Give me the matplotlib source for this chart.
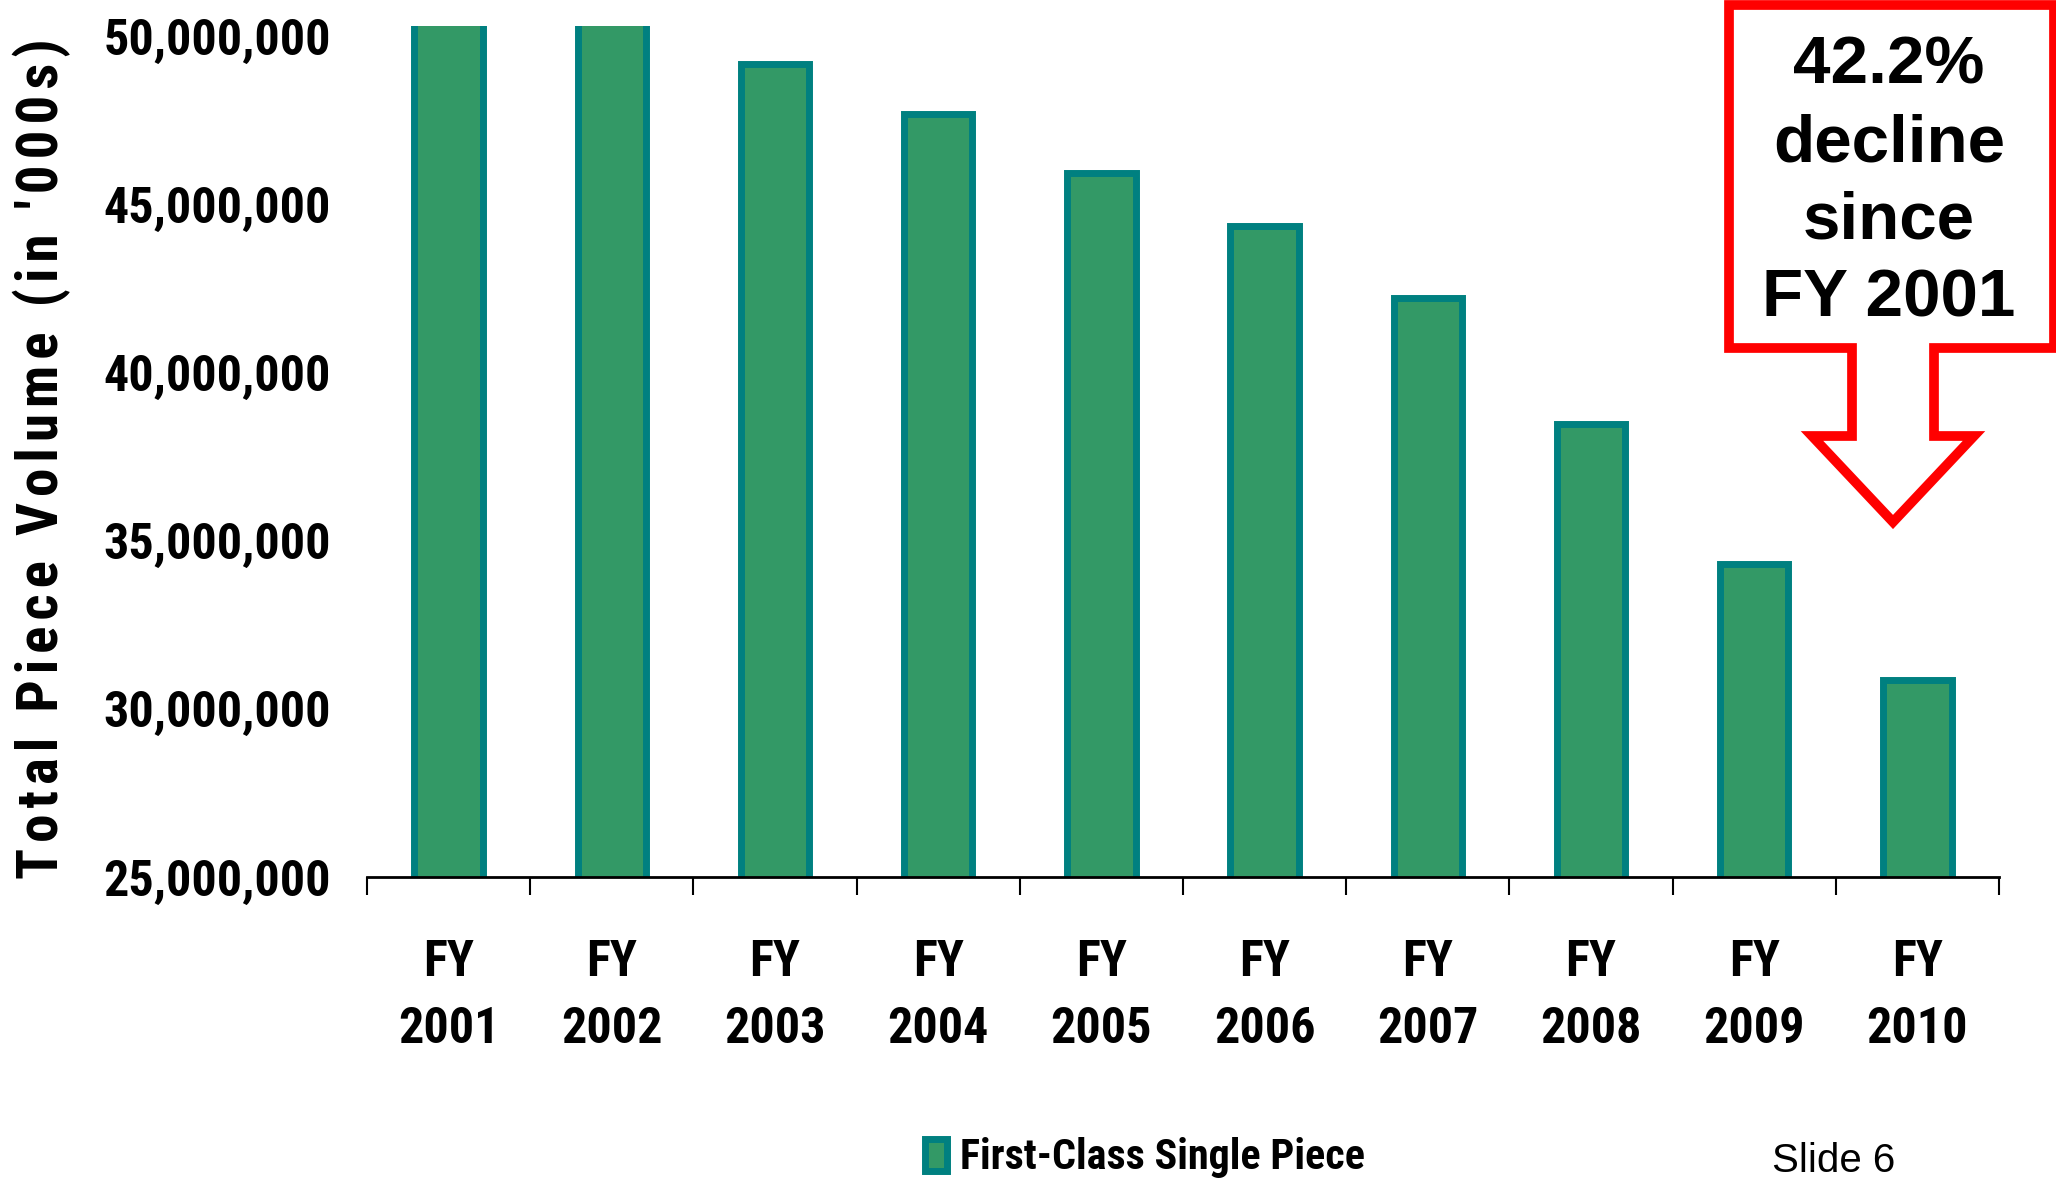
import matplotlib
matplotlib.use("Agg")
import matplotlib.pyplot as plt
from matplotlib import font_manager
from matplotlib.font_manager import FontProperties
from matplotlib.patches import Polygon
from matplotlib.ticker import FuncFormatter
import numpy as np

years = ["2001", "2002", "2003", "2004", "2005", "2006", "2007", "2008", "2009", "2010"]
volume = [53400000, 51900000, 49180000, 47670000, 45920000,
          44360000, 42210000, 38470000, 34300000, 30870000]
series_name = "First-Class Single Piece"
y_ticks = [25000000, 30000000, 35000000, 40000000, 45000000, 50000000]
callout = "42.2%\ndecline\nsince\nFY 2001"

# look for a narrow bold face (the chart uses Arial Narrow-like labels)
narrow_file = None
best = 99
for f in font_manager.fontManager.ttflist:
    cond = ("Narrow" in f.name or "Condensed" in f.name or "Narrow" in f.fname
            or "Condensed" in f.fname or f.stretch in ("condensed", "semi-condensed"))
    w = f.weight if isinstance(f.weight, int) else (700 if f.weight == "bold" else 400)
    if cond and w >= 600 and "italic" not in f.style and "oblique" not in f.style:
        rank = 0 if "Liberation" in f.name else (1 if "Roboto" in f.name else 2)
        if rank < best:
            best, narrow_file = rank, f.fname

wide = ["Liberation Sans", "DejaVu Sans"]
ylabel = "Total Piece Volume (in '000s)"

if narrow_file:
    def nfont(size):
        return FontProperties(fname=narrow_file, size=size)
    ytick_size, xtick_size, leg_size = 36, 36, 30.3
    narrow_name = FontProperties(fname=narrow_file).get_name()
    ylab_family = [narrow_name, "DejaVu Sans"]
    seps = ["", "\u200a", "\u2009"]
else:
    def nfont(size):
        return FontProperties(family="Liberation Sans", weight="bold", size=size)
    ytick_size, xtick_size, leg_size = 31.5, 31, 25.7
    ylab_family = wide
    seps = [""]

W, H = 2056, 1181
fig = plt.figure(figsize=(W / 100, H / 100), dpi=100)
ax = fig.add_axes([367 / W, 1 - 877 / H, 1632 / W, 851 / H])

x = np.arange(len(years))
bars = ax.bar(x, volume, width=0.42, color="#339966", edgecolor="#008080",
              linewidth=5, label=series_name)

ax.set_xlim(-0.5, len(years) - 0.5)
ax.set_ylim(25000000, 50300000)
for s in ["top", "right", "left"]:
    ax.spines[s].set_visible(False)
ax.spines["bottom"].set_linewidth(2)

ax.set_yticks(y_ticks)
ax.yaxis.set_major_formatter(FuncFormatter(lambda v, p: "{:,.0f}".format(v)))
ax.tick_params(axis="y", length=0, pad=26)
ax.set_xticks(x)
ax.set_xticklabels(["FY\n" + y for y in years])
ax.set_xticks(np.arange(-0.5, len(years)), minor=True)
xpad = 50 * 0.72 - 0.19 * xtick_size * 1.389 * 0.72 + 15.5
ax.tick_params(axis="x", which="major", length=0, pad=xpad)
ax.tick_params(axis="x", which="minor", length=13, width=1.5, direction="out")
lsp = 70 / (0.907 * xtick_size * 100 / 72)
for lab in ax.get_xticklabels():
    lab.set_fontproperties(nfont(xtick_size))
    lab.set_linespacing(lsp)
for lab in ax.get_yticklabels():
    lab.set_fontproperties(nfont(ytick_size))

# y title: spaced-out letters, sized so it runs about 836 px like the slide
ylab = fig.text(42 / W, 1 - 459 / H, ylabel, rotation=90, ha="center", va="center",
                family=ylab_family, fontweight="bold", fontsize=45)
renderer = fig.canvas.get_renderer()
choice = None
for sep in seps:
    for size in np.arange(41, 48.5, 0.5):
        ylab.set_text(sep.join(ylabel))
        ylab.set_fontsize(size)
        length = ylab.get_window_extent(renderer).height
        score = abs(length - 836) + 12 * abs(size - 45)
        if choice is None or score < choice[0]:
            choice = (score, sep, size)
ylab.set_text(choice[1].join(ylabel))
ylab.set_fontsize(choice[2])

# red callout arrow
pts = [(1729, 5), (2054, 5), (2054, 348), (1934, 348), (1934, 436), (1974, 436),
       (1893, 522), (1812, 436), (1852, 436), (1852, 348), (1729, 348)]
poly = Polygon([(px / W, 1 - py / H) for px, py in pts], closed=True,
               transform=fig.transFigure, facecolor="white", edgecolor="#ff0000",
               linewidth=7, joinstyle="miter")
fig.patches.append(poly)
fig.text(1889 / W, 1 - 183 / H, callout, ha="center", va="center",
         multialignment="center", linespacing=1.33,
         fontsize=48.5, fontweight="bold", family=wide)

leg = fig.legend(handles=[bars], loc="center left", bbox_to_anchor=(925 / W, 1 - 1158 / H),
                 frameon=False, borderpad=0, borderaxespad=0, handlelength=22 / (leg_size * 1.389),
                 handleheight=33 / (leg_size * 1.389), handletextpad=13 / (leg_size * 1.389),
                 prop=nfont(leg_size))

fig.text(1772 / W, 1 - 1172 / H, "Slide 6", ha="left", va="baseline",
         fontsize=29, family=wide)

fig.savefig("out.png", dpi=100)
